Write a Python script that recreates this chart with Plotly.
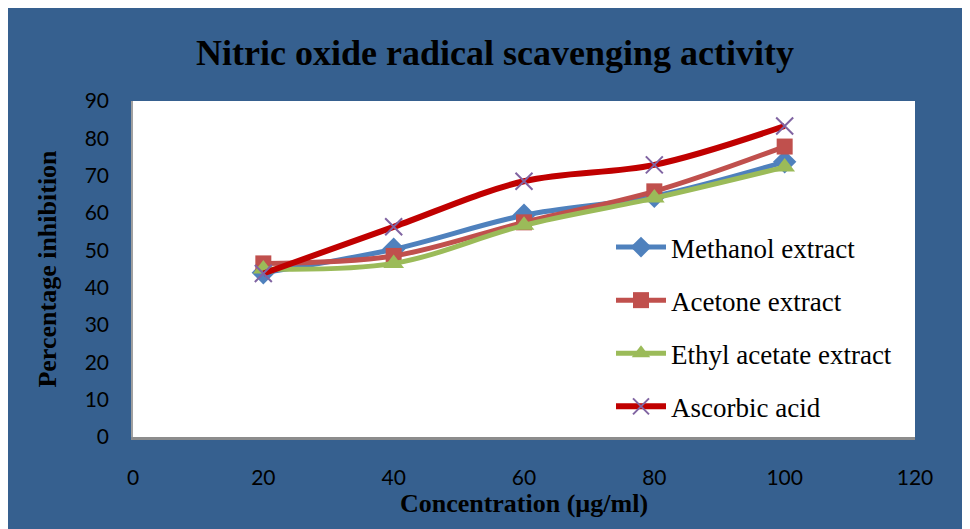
import plotly.graph_objects as go

concentration = [20, 40, 60, 80, 100]
methanol = [44.0, 50.3, 59.4, 64.5, 73.7]
acetone = [46.5, 48.5, 57.5, 65.8, 77.8]
ethyl_acetate = [45.0, 46.5, 56.7, 64.0, 72.3]
ascorbic = [43.8, 56.3, 68.5, 72.9, 83.3]

x_ticks = [0, 20, 40, 60, 80, 100, 120]
y_ticks = [0, 10, 20, 30, 40, 50, 60, 70, 80, 90]

W, H = 962, 521
L, R, T, B = 125, 55, 93, 92
pw, ph = W - L - R, H - T - B

BLUE_BG = "#36608F"
serif = "Liberation Serif, Times New Roman, serif"
sans = "Lato, Carlito, Calibri, sans-serif"

fig = go.Figure()

series = [
    ("Methanol extract", methanol, "#4F81BD", dict(symbol="diamond", size=18, color="#4F81BD"), 5),
    ("Acetone extract", acetone, "#C0504D", dict(symbol="square", size=16, color="#C0504D"), 5),
    ("Ethyl acetate extract", ethyl_acetate, "#9BBB59", dict(symbol="triangle-up", size=18, color="#9BBB59"), 5),
    ("Ascorbic acid", ascorbic, "#C00000", dict(symbol="x-thin", size=17, color="#8064A2",
                                               line=dict(color="#8064A2", width=2)), 6),
]

for i, (name, vals, col, mk, lw) in enumerate(series):
    fig.add_trace(go.Scatter(
        x=concentration, y=vals, name=name, mode="lines+markers",
        line=dict(color=col, width=lw, shape="spline", smoothing=1),
        marker=mk, legendgroup=f"g{i}",
    ))

fig.update_layout(
    width=W, height=H,
    margin=dict(l=L, r=R, t=T, b=B),
    paper_bgcolor=BLUE_BG,
    plot_bgcolor="white",
    title=dict(text="<b>Nitric oxide radical scavenging activity</b>",
               x=487 / W, xanchor="center", y=1 - 44 / H, yanchor="middle",
               font=dict(family=serif, size=36, color="black")),
    showlegend=True,
    legend=dict(x=(603 - L) / pw, xanchor="left", y=(H - B - 215) / ph, yanchor="top",
                bgcolor="rgba(0,0,0,0)", font=dict(family=serif, size=27, color="black"),
                tracegroupgap=15, itemwidth=50),
)

fig.update_xaxes(range=[0, 120], tickvals=x_ticks, ticktext=[str(v) for v in x_ticks],
                 showgrid=False, zeroline=False, showline=True, linecolor="#8C8C8C", linewidth=3,
                 ticks="", ticklabelstandoff=20,
                 tickfont=dict(family=sans, size=21, color="black"),
                 title=dict(text="<b>Concentration (µg/ml)</b>", standoff=6,
                            font=dict(family=serif, size=26, color="black")))
fig.update_yaxes(range=[0, 90], tickvals=y_ticks, ticktext=[str(v) for v in y_ticks],
                 showgrid=False, zeroline=False, showline=True, linecolor="#A0A0A0", linewidth=1.5,
                 ticks="", ticklabelstandoff=18,
                 tickfont=dict(family=sans, size=21, color="black"),
                 title=dict(text="<b>Percentage inhibition</b>", standoff=21,
                            font=dict(family=serif, size=26, color="black")))

fig.write_html("out.html")
